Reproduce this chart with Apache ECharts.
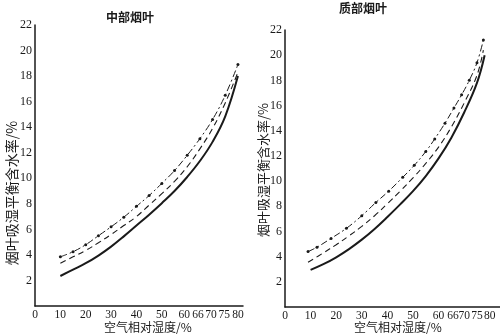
<!DOCTYPE html>
<html>
<head>
<meta charset="utf-8">
<script src="https://cdn.jsdelivr.net/npm/echarts@6/dist/echarts.min.js"></script>
<style>
  html, body { margin: 0; padding: 0; background: #fff; }
  #chart { width: 500px; height: 334px; }
</style>
</head>
<body>
<div id="chart"></div>
<script>
// Equilibrium moisture content of tobacco leaf vs. relative air humidity

// x-axis tick labels (relative humidity, %)
const rhTicks = [0, 10, 20, 30, 40, 50, 60, 66, 70, 75, 80];
const yTicksMax = 22;

// middle leaves (中部烟叶)
const midRh = [10, 15, 20, 25, 30, 35, 40, 45, 50, 55, 60, 65, 70, 75, 80];
const midSolid = [2.35, 2.85, 3.35, 3.95, 4.65, 5.45, 6.3, 7.15, 8.05, 9.0, 10.1, 11.35, 12.85, 14.85, 18.0];
const midDashed = [3.35, 3.85, 4.35, 4.95, 5.6, 6.3, 7.0, 7.9, 8.8, 9.75, 10.9, 12.3, 13.9, 15.9, 18.3];
const midDashDot = [3.85, 4.25, 4.8, 5.5, 6.2, 6.95, 7.8, 8.65, 9.6, 10.6, 11.8, 13.1, 14.6, 16.5, 18.9];

// top leaves (质部烟叶)
const topSolidRh = [10, 15, 20, 25, 30, 35, 40, 45, 50, 55, 60, 65, 70, 75, 78];
const topSolid = [2.95, 3.4, 3.95, 4.6, 5.35, 6.2, 7.15, 8.15, 9.2, 10.4, 11.8, 13.45, 15.45, 17.8, 20.0];
const topDashedRh = [9, 15, 20, 25, 30, 35, 40, 45, 50, 55, 60, 65, 70, 75, 77.5];
const topDashed = [3.55, 4.3, 4.95, 5.65, 6.4, 7.25, 8.2, 9.2, 10.25, 11.4, 12.7, 14.3, 16.2, 18.4, 20.4];
const topDashDotRh = [9, 12.5, 18, 24, 30, 35.5, 40.5, 46, 50.5, 55, 58.5, 62.5, 66, 69, 72, 75, 77.5];
const topDashDot = [4.4, 4.75, 5.45, 6.25, 7.25, 8.3, 9.2, 10.3, 11.25, 12.35, 13.35, 14.6, 15.8, 16.85, 18.0, 19.4, 21.2];

const pairs = (xs, ys) => xs.map((x, i) => [x, ys[i]]);

const ink = '#1a1a1a';
const numFont = 'Liberation Serif';
const cjkFont = 'Noto Sans CJK SC';

// crowded labels near the upper end are nudged left so they stay legible
function xAxisFor(gridIndex, max, nudge) {
  const base = { fontFamily: numFont, fontSize: 11.5, color: ink };
  const rich = { n: Object.assign({}, base) };
  Object.keys(nudge).forEach(k => {
    rich['k' + k] = Object.assign({}, base, { padding: [0, nudge[k] * 2, 0, 0] });
  });
  return {
    type: 'value', gridIndex, min: 0, max,
    axisLine: { show: true, lineStyle: { color: ink, width: 1.5 } },
    axisTick: { show: false },
    splitLine: { show: false },
    axisLabel: Object.assign({}, base, {
      customValues: rhTicks,
      margin: 3,
      formatter: v => (nudge[v] ? '{k' + v + '|' + v + '}' : '{n|' + v + '}'),
      rich
    })
  };
}

function yAxisFor(gridIndex) {
  return {
    type: 'value', gridIndex, min: 0, max: yTicksMax, interval: 2,
    axisLine: { show: true, lineStyle: { color: ink, width: 1.5 } },
    axisTick: { show: false },
    splitLine: { show: false },
    axisLabel: {
      showMinLabel: false,
      color: ink, fontFamily: numFont, fontSize: 12, margin: 3
    }
  };
}

function solid(i, data) {
  return {
    type: 'line', xAxisIndex: i, yAxisIndex: i, data, smooth: 0.4,
    showSymbol: false, lineStyle: { color: ink, width: 2 }
  };
}
function dashed(i, data) {
  return {
    type: 'line', xAxisIndex: i, yAxisIndex: i, data, smooth: 0.4,
    showSymbol: false, lineStyle: { color: ink, width: 1.1, type: [6, 4] }
  };
}
function dashDot(i, data) {
  return {
    type: 'line', xAxisIndex: i, yAxisIndex: i, data, smooth: 0.4,
    symbol: 'circle', symbolSize: 3, showSymbol: true,
    itemStyle: { color: ink },
    lineStyle: { color: ink, width: 1, type: [7, 3, 2, 3] }
  };
}

const chart = echarts.init(document.getElementById('chart'), null, { renderer: 'canvas' });

chart.setOption({
  animation: false,
  backgroundColor: '#fff',
  grid: [
    { left: 35, right: 257, top: 25, bottom: 28 },
    { left: 285, right: 0, top: 30, bottom: 27 }
  ],
  xAxis: [
    xAxisFor(0, 82, { 60: 3, 66: 4.5, 70: 1.5, 75: 1 }),
    xAxisFor(1, 84, { 66: 1 })
  ],
  yAxis: [yAxisFor(0), yAxisFor(1)],
  series: [
    solid(0, pairs(midRh, midSolid)),
    dashed(0, pairs(midRh, midDashed)),
    dashDot(0, pairs(midRh, midDashDot)),
    solid(1, pairs(topSolidRh, topSolid)),
    dashed(1, pairs(topDashedRh, topDashed)),
    dashDot(1, pairs(topDashDotRh, topDashDot))
  ],
  graphic: [
    { type: 'text', x: 130, y: 17, style: { text: '中部烟叶', font: 'bold 12px "' + cjkFont + '"', fill: ink, textAlign: 'center', textVerticalAlign: 'middle' } },
    { type: 'text', x: 363, y: 8, style: { text: '质部烟叶', font: 'bold 12px "' + cjkFont + '"', fill: ink, textAlign: 'center', textVerticalAlign: 'middle' } },
    { type: 'text', x: 12, y: 193, rotation: Math.PI / 2, style: { text: '烟叶吸湿平衡含水率/%', font: '14px "' + cjkFont + '"', fill: ink, textAlign: 'center', textVerticalAlign: 'middle' } },
    { type: 'text', x: 263, y: 170, rotation: Math.PI / 2, style: { text: '烟叶吸湿平衡含水率/%', font: '13px "' + cjkFont + '"', fill: ink, textAlign: 'center', textVerticalAlign: 'middle' } },
    { type: 'text', x: 148, y: 327, style: { text: '空气相对湿度/%', font: '12px "' + cjkFont + '"', fill: ink, textAlign: 'center', textVerticalAlign: 'middle' } },
    { type: 'text', x: 398, y: 327, style: { text: '空气相对湿度/%', font: '12px "' + cjkFont + '"', fill: ink, textAlign: 'center', textVerticalAlign: 'middle' } }
  ]
});
</script>
</body>
</html>
